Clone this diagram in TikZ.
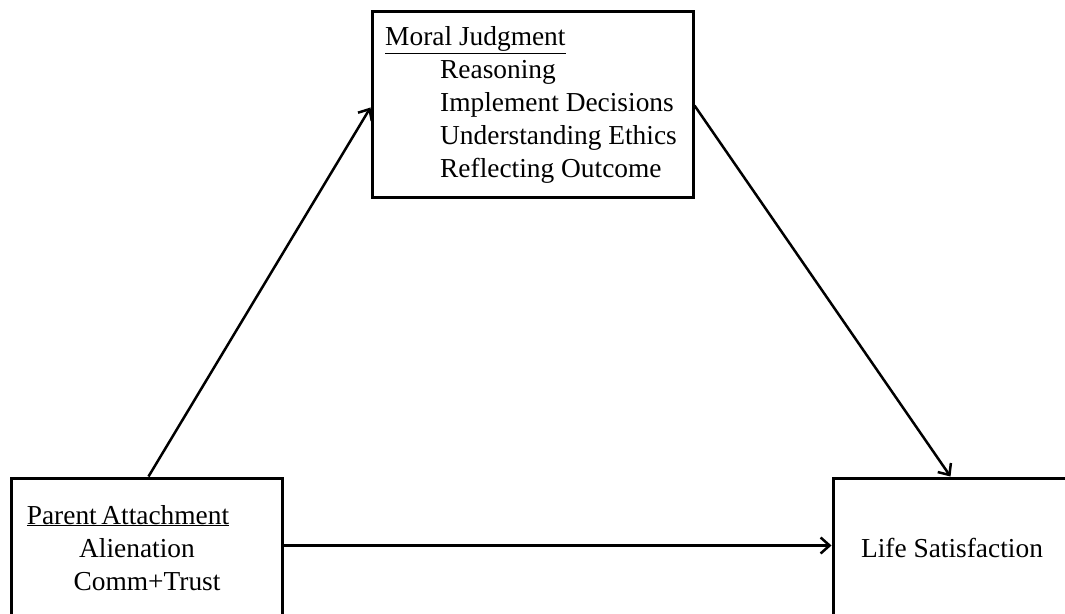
\documentclass[tikz,border=0pt]{standalone}
\usepackage{fontspec}
\setmainfont{Liberation Serif}
\usetikzlibrary{arrows.meta,calc}
\tikzset{
  box/.style={draw=black, line width=3bp, minimum width=#1, inner sep=0pt},
  lbl/.style={inner sep=0pt, font=\fontsize{27.5}{30}\selectfont, anchor=base west},
  conn/.style={line width=2.5bp, -{Straight Barb[length=9bp,width=16bp,line width=2.5bp]}},
}
\begin{document}
\begin{tikzpicture}[x=1bp,y=-1bp]
\useasboundingbox (0,0) rectangle (1065,614);
\clip (0,0) rectangle (1065,614);
% boxes
\node[box=321bp, minimum height=185bp] (mj) at (532.5,104.5) {};
\node[box=270bp, minimum height=170bp] (pa) at (147,563) {};
\node[box=267bp, minimum height=170bp] (ls) at (966.5,563) {};
% texts
\node[lbl] (mjt) at (385,46) {\underline{Moral Judgment}};
\node[lbl] (r1) at (440,79) {Reasoning};
\node[lbl] (r2) at (440,112) {Implement Decisions};
\node[lbl] (r3) at (440,145) {Understanding Ethics};
\node[lbl] (r4) at (440,178) {Reflecting Outcome};
\node[lbl, anchor=base] (pat) at (128,524) {\underline{Parent\,Attachment}};
\node[lbl, anchor=base] (al) at (137,557) {Alienation};
\node[lbl, anchor=base] (ct) at (147,590) {Comm+Trust};
\node[lbl, anchor=base] (lst) at (952,557) {Life Satisfaction};
% connectors
\coordinate (a1s) at ($(pa.north west)+(138,0)$);
\coordinate (a1e) at ($(mj.north west)+(0,97)$);
\coordinate (a2s) at ($(mj.north east)+(0,95)$);
\coordinate (a2e) at ($(ls.north west)+(119,0)$);
\coordinate (a3s) at ($(pa.north east)+(0,69)$);
\coordinate (a3e) at ($(ls.north west)+(0,69)$);
\draw[conn] (a1s) -- (a1e);
\draw[conn] (a2s) -- (a2e);
\draw[conn] (a3s) -- (a3e);
\end{tikzpicture}
\end{document}
